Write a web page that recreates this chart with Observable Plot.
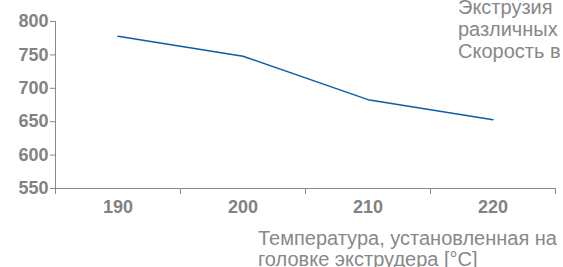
<!DOCTYPE html>
<html>
<head>
<meta charset="utf-8">
<script src="https://cdn.jsdelivr.net/npm/d3@7"></script>
<script src="https://cdn.jsdelivr.net/npm/@observablehq/plot@0.6"></script>
<style>
  html, body { margin: 0; padding: 0; background: #fff; overflow: hidden; }
  #chart { width: 563px; height: 267px; overflow: hidden; }
</style>
</head>
<body>
<div id="chart"></div>
<script>
const temperatures = [190, 200, 210, 220];
const speeds = [778, 748, 683, 653];
const xTickLabels = [190, 200, 210, 220];
const xTickBounds = [185, 195, 205, 215, 225];
const yTicks = [550, 600, 650, 700, 750, 800];
const titleLines = ["Экструзия", "различных", "Скорость в"];
const xLabelLines = ["Температура, установленная на", "головке экструдера [°C]"];

const data = temperatures.map((t, i) => ({t, v: speeds[i]}));
const gray = "#888888";
const tickGray = "#828282";
const font = "'Liberation Sans', Arial, Helvetica, sans-serif";

const plot = Plot.plot({
  width: 563,
  height: 267,
  marginLeft: 55,
  marginRight: 8,
  marginTop: 21,
  marginBottom: 79,
  style: {fontFamily: font, color: gray, background: "#fff", overflow: "hidden"},
  x: {domain: [185, 225], range: [55, 555]},
  y: {domain: [550, 800]},
  marks: [
    Plot.ruleX([185], {stroke: gray, y1: 550, y2: 800}),
    Plot.ruleY([550], {stroke: gray, x1: 185, x2: 225}),
    Plot.axisY({ticks: yTicks, tickSize: 5, tickPadding: 2, stroke: gray, fill: tickGray, fontSize: 18, fontWeight: "bold", label: null}),
    Plot.axisX({ticks: xTickBounds, tickSize: 6, tickFormat: () => "", stroke: gray, label: null}),
    Plot.axisX({ticks: xTickLabels, tickSize: 0, tickPadding: 12, fill: tickGray, fontSize: 18, fontWeight: "bold", label: null}),
    Plot.line(data, {x: "t", y: "v", stroke: "#0d5ca6", strokeWidth: 1.5})
  ]
});
document.getElementById("chart").appendChild(plot);

const svg = d3.select(plot);
svg.append("g").attr("text-anchor", "start").selectAll("text").data(titleLines).join("text")
  .attr("x", 458).attr("y", (d, i) => 14 + i * 22)
  .attr("fill", gray).attr("font-size", 20).attr("font-family", font)
  .text(d => d);
svg.append("g").attr("text-anchor", "start").selectAll("text").data(xLabelLines).join("text")
  .attr("x", 258).attr("y", (d, i) => 245 + i * 21)
  .attr("fill", gray).attr("font-size", 20).attr("font-family", font)
  .text(d => d);
</script>
</body>
</html>
